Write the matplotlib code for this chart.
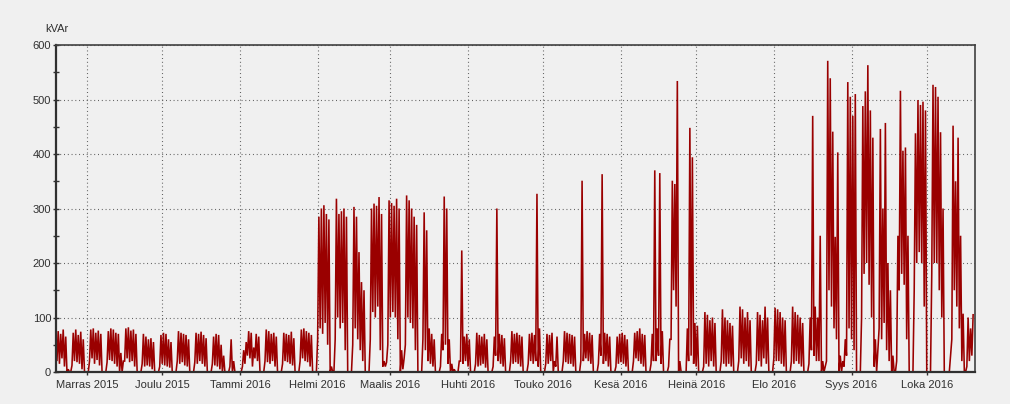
import numpy as np
import matplotlib
matplotlib.use("Agg")
import matplotlib.pyplot as plt
from matplotlib.ticker import MultipleLocator, FixedLocator
import matplotlib.dates as mdates

plt.rcParams['font.family'] = ['Liberation Sans', 'DejaVu Sans']

# first day shown (a Monday); one row per week, Mon..Sun
start_day = "2015-10-19"

# daily peak reactive power, kVAr
day_high = [
    [82, 75, 70, 78, 65, 5, 0],          # 19.10.2015
    [72, 78, 68, 74, 60, 0, 0],
    [78, 80, 72, 76, 70, 0, 0],          # 2.11.
    [75, 80, 78, 72, 70, 35, 20],
    [80, 82, 76, 78, 70, 0, 0],
    [70, 65, 60, 62, 55, 0, 0],
    [68, 72, 70, 60, 55, 0, 0],          # 30.11.
    [75, 72, 70, 68, 60, 0, 0],
    [72, 70, 74, 68, 62, 0, 0],
    [65, 70, 68, 50, 30, 0, 0],          # 21.12.
    [60, 20, 0, 0, 0, 40, 55],
    [75, 72, 45, 70, 65, 0, 0],          # 4.1.2016
    [78, 75, 70, 72, 65, 0, 0],
    [72, 70, 68, 74, 62, 0, 0],
    [78, 80, 75, 72, 68, 0, 0],
    [285, 300, 306, 290, 280, 10, 0],    # 1.2.
    [318, 290, 295, 300, 285, 0, 0],
    [303, 285, 220, 165, 150, 0, 0],
    [300, 309, 305, 321, 290, 20, 18],
    [315, 310, 305, 318, 300, 40, 25],   # 29.2.
    [324, 315, 300, 285, 270, 0, 0],
    [293, 260, 80, 70, 60, 0, 0],
    [70, 322, 300, 60, 15, 5, 0],
    [20, 223, 65, 70, 60, 0, 0],         # 28.3.
    [72, 68, 65, 70, 60, 0, 0],
    [65, 300, 70, 68, 62, 0, 0],
    [75, 70, 72, 68, 65, 0, 0],
    [70, 72, 68, 327, 80, 0, 0],
    [70, 68, 72, 20, 65, 0, 0],          # 2.5.
    [75, 72, 70, 68, 65, 0, 0],
    [351, 70, 75, 72, 68, 0, 0],
    [70, 363, 72, 70, 65, 0, 0],
    [65, 70, 72, 68, 60, 0, 0],          # 30.5.
    [72, 75, 80, 70, 68, 0, 0],
    [70, 370, 80, 365, 75, 0, 0],
    [60, 351, 345, 534, 20, 0, 0],
    [80, 448, 394, 90, 85, 0, 0],        # 27.6.
    [110, 105, 95, 100, 90, 0, 0],
    [115, 100, 95, 90, 85, 0, 0],
    [120, 115, 100, 110, 95, 0, 0],
    [110, 105, 95, 120, 100, 0, 0],
    [118, 115, 110, 100, 95, 0, 0],      # 1.8.
    [120, 110, 105, 100, 90, 0, 0],
    [100, 470, 120, 100, 250, 20, 10],
    [571, 539, 441, 248, 403, 30, 20],
    [60, 532, 505, 470, 510, 0, 0],      # 29.8.
    [488, 515, 563, 480, 430, 60, 40],
    [446, 300, 457, 200, 150, 30, 0],
    [250, 516, 406, 412, 250, 0, 0],
    [438, 499, 490, 496, 480, 0, 0],
    [527, 523, 505, 440, 300, 0, 0],     # 3.10.
    [30, 452, 350, 430, 250, 107, 0],
    [100, 80, 105],                      # 17.10.
]

# daily minimum, kVAr
day_low = [
    [30, 20, 15, 25, 10, 0, 0],
    [12, 20, 18, 15, 5, 0, 0],
    [20, 25, 15, 22, 12, 0, 0],
    [18, 22, 20, 15, 10, 0, 0],
    [20, 25, 18, 20, 10, 0, 0],
    [15, 10, 12, 10, 5, 0, 0],
    [10, 15, 12, 10, 8, 0, 0],
    [20, 15, 18, 12, 10, 0, 0],
    [18, 15, 20, 15, 10, 0, 0],
    [15, 12, 10, 5, 0, 0, 0],
    [10, 0, 0, 0, 0, 10, 15],
    [30, 25, 10, 25, 20, 0, 0],
    [20, 18, 15, 20, 10, 0, 0],
    [15, 20, 18, 15, 12, 0, 0],
    [20, 25, 20, 18, 10, 0, 0],
    [60, 80, 70, 90, 50, 0, 0],
    [60, 100, 80, 90, 40, 0, 0],
    [50, 80, 60, 40, 20, 0, 0],
    [60, 110, 100, 120, 40, 10, 10],
    [50, 100, 110, 100, 60, 0, 5],
    [50, 100, 90, 80, 40, 0, 0],
    [60, 40, 20, 15, 10, 0, 0],
    [10, 40, 50, 15, 0, 0, 0],
    [0, 20, 15, 20, 10, 0, 0],
    [15, 10, 12, 15, 8, 0, 0],
    [10, 30, 20, 15, 10, 0, 0],
    [20, 15, 18, 15, 10, 0, 0],
    [15, 20, 15, 20, 10, 0, 0],
    [15, 15, 20, 0, 10, 0, 0],
    [20, 18, 15, 15, 10, 0, 0],
    [20, 20, 25, 20, 15, 0, 0],
    [15, 30, 15, 20, 10, 0, 0],
    [10, 15, 18, 15, 10, 0, 0],
    [20, 25, 20, 15, 10, 0, 0],
    [15, 20, 20, 30, 15, 0, 0],
    [10, 60, 150, 120, 0, 0, 0],
    [0, 20, 30, 15, 10, 0, 0],
    [10, 15, 10, 20, 10, 0, 0],
    [20, 15, 10, 15, 10, 0, 0],
    [20, 25, 15, 20, 10, 0, 0],
    [15, 20, 10, 25, 15, 0, 0],
    [25, 20, 20, 15, 10, 0, 0],
    [20, 15, 20, 15, 10, 0, 0],
    [15, 40, 30, 20, 20, 0, 0],
    [20, 150, 120, 80, 60, 0, 0],
    [10, 30, 80, 60, 40, 0, 0],
    [100, 180, 200, 160, 100, 10, 0],
    [80, 60, 90, 40, 20, 0, 0],
    [20, 150, 180, 160, 60, 0, 0],
    [150, 200, 220, 200, 120, 0, 0],
    [180, 200, 200, 150, 100, 0, 0],
    [0, 60, 150, 120, 80, 20, 0],
    [10, 20, 30],
]

month_starts = ["2015-11-01", "2015-12-01", "2016-01-01", "2016-02-01",
                "2016-03-01", "2016-04-01", "2016-05-01", "2016-06-01",
                "2016-07-01", "2016-08-01", "2016-09-01", "2016-10-01"]
month_labels = ["Marras 2015", "Joulu 2015", "Tammi 2016", "Helmi 2016",
                "Maalis 2016", "Huhti 2016", "Touko 2016", "Kesä 2016",
                "Heinä 2016", "Elo 2016", "Syys 2016", "Loka 2016"]

high = np.array([v for week in day_high for v in week], dtype=float)
low = np.array([v for week in day_low for v in week], dtype=float)

# night minimum at midnight, day peak at noon
t0 = np.datetime64(start_day, "h")
hours = np.arange(len(high)) * 24
t = np.empty(2 * len(high), dtype="datetime64[h]")
t[0::2] = t0 + hours.astype("timedelta64[h]")
t[1::2] = t0 + (hours + 12).astype("timedelta64[h]")
y = np.empty(2 * len(high))
y[0::2] = low
y[1::2] = high

bg = "#f0f0f0"
fig = plt.figure(figsize=(10.10, 4.04), dpi=100, facecolor=bg)
ax = fig.add_axes([56 / 1010, 1 - 372 / 404, (975 - 56) / 1010, (372 - 45) / 404])
ax.set_facecolor(bg)

ax.plot(t, y, color="#9a0000", lw=1.15, solid_joinstyle="miter")

ax.set_ylim(0, 600)
ax.set_xlim(np.datetime64("2015-10-19T15:00"), np.datetime64("2016-10-20T06:00"))

ax.yaxis.set_major_locator(MultipleLocator(100))
ax.yaxis.set_minor_locator(MultipleLocator(50))
ticks = mdates.date2num(np.array(month_starts, dtype="datetime64[D]"))
ax.xaxis.set_major_locator(FixedLocator(ticks))
ax.set_xticklabels(month_labels)

ax.grid(True, which="major", color="#505050", lw=0.8, linestyle=(0, (0.8, 2.6)))
ax.tick_params(axis="y", which="both", direction="inout", length=5, width=1,
               color="#303030", labelsize=8, labelcolor="#303030", pad=1)
ax.tick_params(axis="x", direction="out", length=2, width=1, color="#303030",
               labelsize=8, labelcolor="#303030", pad=4)

for side in ["left", "bottom"]:
    ax.spines[side].set_color("#303030")
    ax.spines[side].set_linewidth(1.6)
for side in ["top", "right"]:
    ax.spines[side].set_color("#404040")
    ax.spines[side].set_linewidth(1.2)

fig.text(45 / 1010, 1 - 29 / 404, "kVAr", fontsize=8, color="#303030",
         ha="left", va="center")

fig.savefig("out.png", dpi=100, facecolor=bg)
